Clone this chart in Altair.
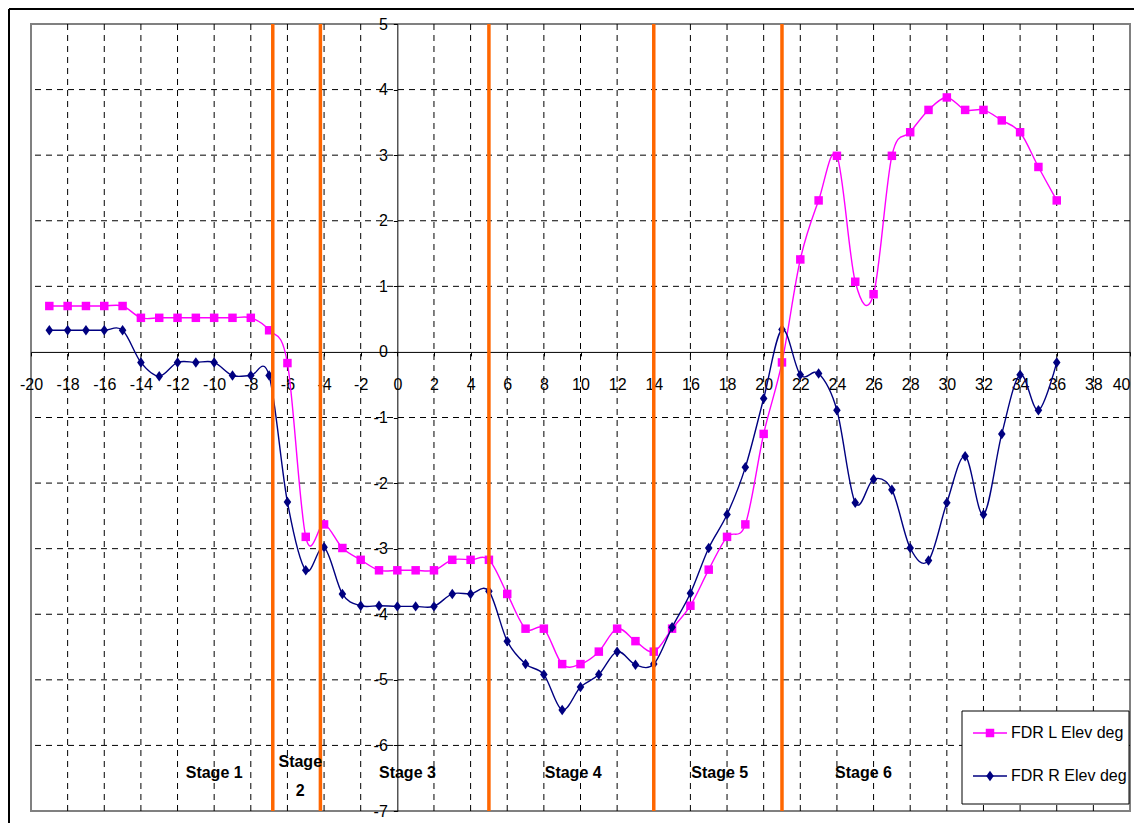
import altair as alt
import pandas as pd

# ---------------- data ----------------
x_vals = list(range(-19, 37))
fdr_l = [0.70, 0.70, 0.70, 0.70, 0.70, 0.52, 0.52, 0.52, 0.52, 0.52, 0.52, 0.52,
         0.33, -0.17, -2.82, -2.63, -2.99, -3.17, -3.33,
         -3.33, -3.33, -3.33, -3.17, -3.17, -3.17, -3.69, -4.22, -4.22, -4.76, -4.76,
         -4.57, -4.22, -4.41, -4.57, -4.22, -3.87, -3.32, -2.82, -2.63, -1.25, -0.16,
         1.41, 2.31, 2.99, 1.07, 0.88, 2.99, 3.35, 3.69, 3.88, 3.69, 3.69, 3.53, 3.35,
         2.82, 2.31]
fdr_r = [0.33, 0.33, 0.33, 0.33, 0.33, -0.16, -0.37, -0.16, -0.16, -0.16, -0.36, -0.36,
         -0.36, -2.29, -3.33, -2.98, -3.69, -3.87, -3.87,
         -3.88, -3.88, -3.88, -3.69, -3.69, -3.65, -4.41, -4.76, -4.92, -5.46, -5.11,
         -4.92, -4.57, -4.77, -4.76, -4.20, -3.68, -2.99, -2.48, -1.76, -0.71, 0.34,
         -0.35, -0.33, -0.89, -2.30, -1.94, -2.10, -2.99, -3.18, -2.30, -1.59, -2.48,
         -1.25, -0.35, -0.89, -0.16]
series_names = ["FDR L Elev deg", "FDR R Elev deg"]
series_colors = ["#FF00FF", "#000080"]

stage_names = ["Stage 1", "Stage\n2", "Stage 3", "Stage 4", "Stage 5", "Stage 6"]
stage_x = [-10.0, -5.3, 0.55, 9.6, 17.6, 25.45]
stage_y = [-6.42, -6.26, -6.42, -6.42, -6.42, -6.42]
stage_bounds = [-6.8, -4.2, 5.0, 14.0, 21.0]

x_ticks = list(range(-20, 41, 2))
y_ticks = list(range(-7, 6))
x_grid = [v for v in x_ticks if v not in (-20, 0, 40)]
y_grid = [v for v in y_ticks if v not in (-7, 0, 5)]

# ---------------- layout ----------------
W, H = 1099, 787
XD, YD = [-20, 40], [-7, 5]
x_axis_pos = H * (YD[1] - 0) / (YD[1] - YD[0])
y_axis_pos = W * (0 - XD[0]) / (XD[1] - XD[0])
FONT = "Liberation Sans"

xs = alt.Scale(domain=XD, nice=False, zero=False)
ys = alt.Scale(domain=YD, nice=False, zero=False)

x_axis = alt.Axis(values=x_ticks, grid=False, offset=x_axis_pos - H,
                  labelExpr="'' + datum.value", labelOverlap=False,
                  labelFlush=False, labelFont=FONT, labelFontSize=16,
                  labelColor="black", domainColor="black", tickColor="black",
                  tickSize=4, labelPadding=21,
                  labelAlign=alt.expr("datum.value == 40 ? 'right' : 'center'"))
y_axis = alt.Axis(values=y_ticks, grid=False, offset=-y_axis_pos,
                  labelExpr="'' + datum.value", labelOverlap=False,
                  labelFlush=False, labelFont=FONT, labelFontSize=16,
                  labelColor="black", domainColor="black", tickColor="black",
                  tickSize=4, labelPadding=6)


def X():
    return alt.X("x:Q", scale=xs, title=None, axis=x_axis)


def Y():
    return alt.Y("v:Q", scale=ys, title=None, axis=y_axis)


df_l = pd.DataFrame({"x": x_vals, "v": fdr_l})
df_r = pd.DataFrame({"x": x_vals, "v": fdr_r})

grid_x = alt.Chart(pd.DataFrame({"x": x_grid})).mark_rule(
    color="black", strokeWidth=1, strokeDash=[6, 5]).encode(x=X())
grid_y = alt.Chart(pd.DataFrame({"v": y_grid})).mark_rule(
    color="black", strokeWidth=1, strokeDash=[6, 5]).encode(y=Y())

diamond = "M0,-1L0.72,0L0,1L-0.72,0Z"

line_l = alt.Chart(df_l).mark_line(color=series_colors[0], strokeWidth=1.4,
                                   interpolate="cardinal").encode(x=X(), y=Y())
pts_l = alt.Chart(df_l).mark_point(shape="square", filled=True, size=72, opacity=1,
                                   color=series_colors[0]).encode(x=X(), y=Y())
line_r = alt.Chart(df_r).mark_line(color=series_colors[1], strokeWidth=1.4,
                                   interpolate="cardinal").encode(x=X(), y=Y())
pts_r = alt.Chart(df_r).mark_point(shape=diamond, filled=True, size=110, opacity=1,
                                   color=series_colors[1]).encode(x=X(), y=Y())

bounds = alt.Chart(pd.DataFrame({"x": stage_bounds})).mark_rule(
    color="#FF6600", strokeWidth=3.5).encode(x=X())

stages = alt.Chart(pd.DataFrame({"x": stage_x, "v": stage_y, "t": stage_names})).mark_text(
    font=FONT, fontSize=16, fontWeight="bold", color="black", align="center",
    baseline="middle", lineBreak="\n", lineHeight=29).encode(x=X(), y=Y(), text="t:N")

one = pd.DataFrame({"k": [0]})

# outer chart frame (top and left edges visible)
frame_top = alt.Chart(one).mark_rule(color="black", strokeWidth=2).encode(
    x=alt.value(-22), x2=alt.value(W + 12), y=alt.value(-15))
frame_left = alt.Chart(one).mark_rule(color="black", strokeWidth=2).encode(
    x=alt.value(-22), y=alt.value(-15), y2=alt.value(H + 20))

# legend
LX0, LX1, LY0, LY1 = 931, 1098, 687, 780
legend_box = alt.Chart(one).mark_rect(fill="white", stroke="black", strokeWidth=1).encode(
    x=alt.value(LX0), x2=alt.value(LX1), y=alt.value(LY0), y2=alt.value(LY1))
legend_layers = [legend_box]
entry_y = [709, 752]
shapes = ["square", diamond]
sizes = [72, 110]
for i, name in enumerate(series_names):
    legend_layers.append(alt.Chart(one).mark_rule(color=series_colors[i], strokeWidth=1.4).encode(
        x=alt.value(942), x2=alt.value(976), y=alt.value(entry_y[i])))
    legend_layers.append(alt.Chart(one).mark_point(shape=shapes[i], filled=True, size=sizes[i],
                                                   opacity=1, color=series_colors[i]).encode(
        x=alt.value(959), y=alt.value(entry_y[i])))
    legend_layers.append(alt.Chart(one).mark_text(font=FONT, fontSize=16, color="black",
                                                  align="left", baseline="middle").encode(
        x=alt.value(980), y=alt.value(entry_y[i]), text=alt.value(name)))

chart = alt.layer(
    grid_x, grid_y, line_l, pts_l, line_r, pts_r, bounds, stages,
    frame_top, frame_left, *legend_layers
).properties(
    width=W, height=H,
    autosize=alt.AutoSizeParams(type="none"),
    padding={"left": 23, "top": 16, "right": 4, "bottom": 12},
    background="white",
).configure_view(stroke="#808080", strokeWidth=2)

chart.save("out.html", embed_options={"renderer": "svg", "actions": False})
